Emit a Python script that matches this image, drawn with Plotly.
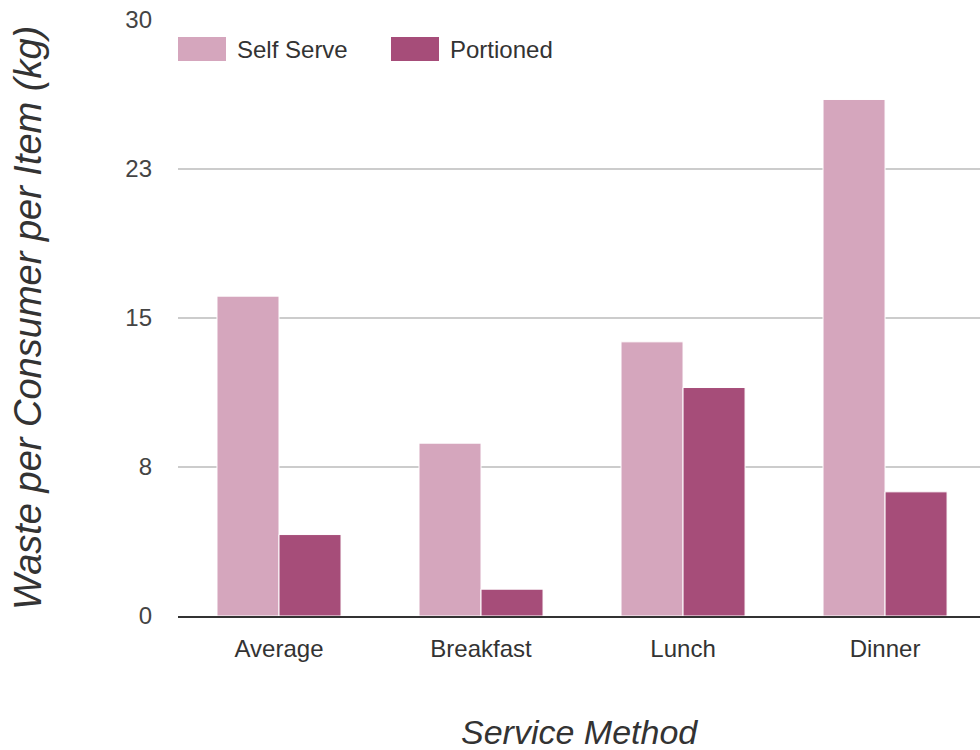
import plotly.graph_objects as go

categories = ["Average", "Breakfast", "Lunch", "Dinner"]
series_names = ["Self Serve", "Portioned"]
self_serve = [16.1, 8.7, 13.8, 26.0]
portioned = [4.1, 1.35, 11.5, 6.25]
series_values = [self_serve, portioned]
series_colors = ["#d5a6bd", "#a64d79"]
y_tickvals = [0, 7.5, 15, 22.5, 30]
y_ticktext = ["0", "8", "15", "23", "30"]
y_title = "Waste per Consumer per Item (kg)"
x_title = "Service Method"

FONT = "Arial, Liberation Sans, sans-serif"

fig = go.Figure()
for name, vals, col in zip(series_names, series_values, series_colors):
    fig.add_trace(go.Bar(
        x=categories, y=vals, name=name,
        marker=dict(color=col, line=dict(color="white", width=1)),
        showlegend=False,
    ))

# custom legend (large swatches like the reference)
legend_x = [0, 213]
for i, (name, col) in enumerate(zip(series_names, series_colors)):
    fig.add_shape(type="rect", xref="paper", yref="paper",
                  xsizemode="pixel", ysizemode="pixel",
                  xanchor=0, yanchor=1,
                  x0=legend_x[i], x1=legend_x[i] + 48, y0=-17, y1=-41,
                  fillcolor=col, line=dict(width=0), layer="above")
    fig.add_annotation(xref="paper", yref="paper", x=0, y=1,
                       xshift=legend_x[i] + 57, yshift=-29,
                       xanchor="left", yanchor="middle", showarrow=False,
                       text=name, font=dict(family=FONT, size=24, color="#333333"))

fig.add_annotation(xref="paper", yref="paper", x=0.5, y=0, yshift=-116,
                   xanchor="center", yanchor="middle", showarrow=False,
                   text=f"<i>{x_title}</i>", font=dict(family=FONT, size=34, color="#333333"))
fig.add_annotation(xref="paper", yref="paper", x=0, y=0.5, xshift=-150,
                   xanchor="center", yanchor="middle", showarrow=False, textangle=-90,
                   text=f"<i>{y_title}</i>", font=dict(family=FONT, size=38, color="#333333"))

fig.update_layout(
    width=980, height=750,
    margin=dict(l=178, r=0, t=20, b=134, autoexpand=False),
    paper_bgcolor="white", plot_bgcolor="white",
    barmode="group", bargap=0.386, bargroupgap=0.0,
    font=dict(family=FONT, size=24, color="#444444"),
    xaxis=dict(range=[-0.5, 3.47], showgrid=False, showline=True,
               linecolor="#333333", linewidth=2, ticks="", ticklabelstandoff=10,
               tickfont=dict(family=FONT, size=24, color="#333333"), fixedrange=True),
    yaxis=dict(range=[0, 30], tickvals=y_tickvals, ticktext=y_ticktext,
               showgrid=True, gridcolor="#cccccc", gridwidth=1.5, zeroline=False,
               showline=False, ticks="", ticklabelstandoff=25,
               tickfont=dict(family=FONT, size=24, color="#444444"), fixedrange=True),
)

fig.write_html("out.html")
